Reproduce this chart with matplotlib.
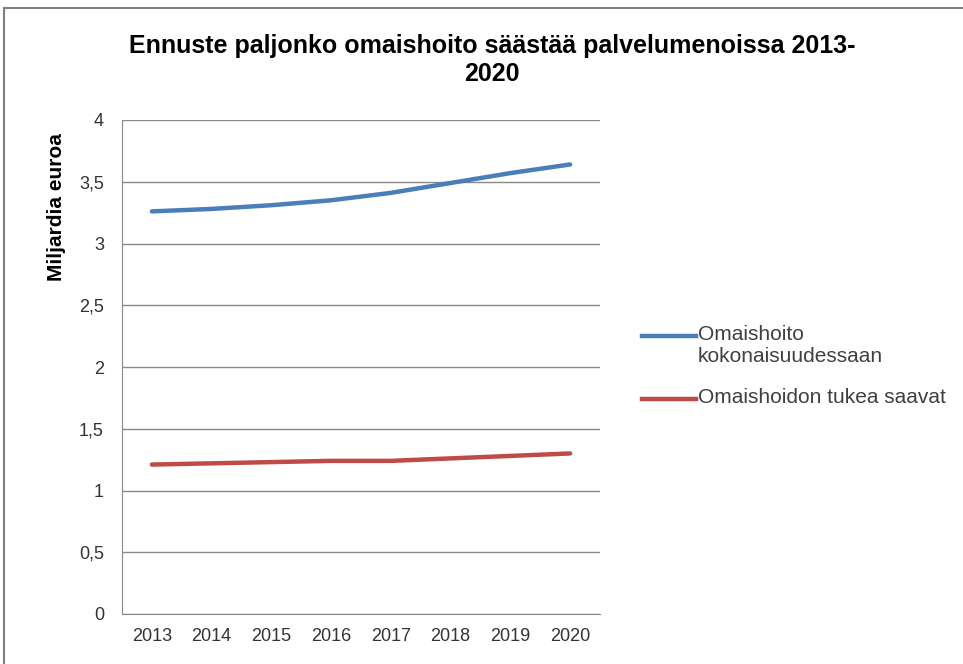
import numpy as np
import matplotlib.pyplot as plt
from matplotlib.lines import Line2D
from matplotlib.patches import Rectangle

plt.rcParams['font.family'] = ['Liberation Sans', 'DejaVu Sans']

years = ['2013', '2014', '2015', '2016', '2017', '2018', '2019', '2020']
omaishoito_koko = [3.26, 3.28, 3.31, 3.35, 3.41, 3.49, 3.57, 3.64]
tuen_saajat = [1.21, 1.22, 1.23, 1.24, 1.24, 1.26, 1.28, 1.30]
series_names = ['Omaishoito\nkokonaisuudessaan', 'Omaishoidon tukea saavat']
series_colors = ['#4A7EBB', '#BE4B48']
y_ticks = [0, 0.5, 1, 1.5, 2, 2.5, 3, 3.5, 4]
y_labels = ['0', '0,5', '1', '1,5', '2', '2,5', '3', '3,5', '4']

W, H = 963, 664
fig = plt.figure(figsize=(W / 100, H / 100), dpi=100)
ax = fig.add_axes([122 / W, 1 - 614 / H, (600 - 122) / W, (614 - 120) / H])

x = np.arange(len(years))
for vals, c in zip([omaishoito_koko, tuen_saajat], series_colors):
    ax.plot(x, vals, color=c, lw=3.2, solid_capstyle='round')

ax.set_xlim(-0.5, len(years) - 0.5)
ax.set_ylim(0, 4)
ax.set_yticks(y_ticks)
ax.set_yticklabels(y_labels)
ax.set_xticks(x)
ax.set_xticklabels(years)
ax.grid(axis='y', color='#888888', lw=1)
ax.set_axisbelow(True)
for s in ['top', 'right']:
    ax.spines[s].set_visible(False)
for s in ['left', 'bottom']:
    ax.spines[s].set_color('#888888')
ax.tick_params(length=0, labelsize=13, colors='#333333', pad=10)
ax.tick_params(axis='y', pad=13)

fig.text(492 / W, 1 - 60 / H, 'Ennuste paljonko omaishoito säästää palvelumenoissa 2013-\n2020',
         ha='center', va='center', fontsize=18, fontweight='bold', linespacing=1.2)
fig.text(57 / W, 1 - 207 / H, 'Miljardia euroa', rotation=90, ha='center', va='center',
         fontsize=15, fontweight='bold')

# legend drawn by hand so the line sits on the first text line
leg_y = [336, 399]
for name, c, yy in zip(series_names, series_colors, leg_y):
    fig.add_artist(Line2D([642 / W, 696 / W], [1 - yy / H, 1 - yy / H], color=c, lw=3.2,
                          transform=fig.transFigure))
    fig.text(698 / W, 1 - (yy - 11) / H, name, ha='left', va='top', fontsize=15,
             color='#404040', linespacing=1.2)

fig.add_artist(Rectangle((4 / W, -0.01), 1.0, 1 - 8 / H + 0.01, transform=fig.transFigure,
                         fill=False, edgecolor='#7f7f7f', lw=1.5))

fig.savefig('out.png', dpi=100)
